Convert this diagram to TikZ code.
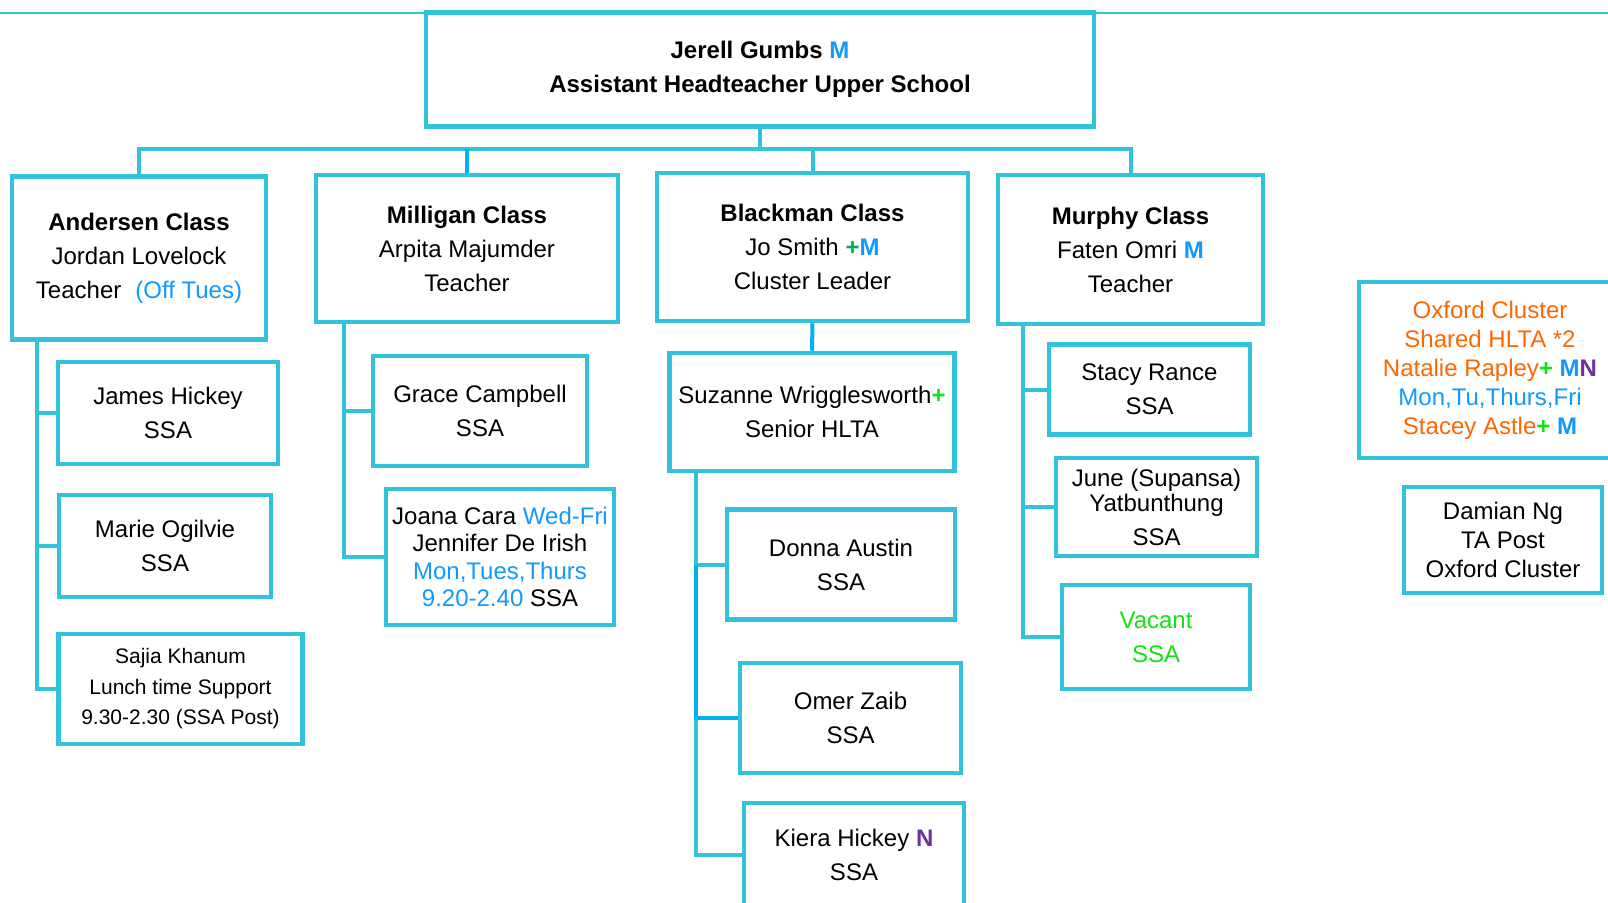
\documentclass[tikz,border=0pt]{standalone}
\usepackage{fontspec}
\setmainfont{Liberation Sans}

\definecolor{boxcyan}{RGB}{49,194,220}
\definecolor{linkblue}{RGB}{0,176,240}
\definecolor{dayblue}{RGB}{17,153,255}
\definecolor{plusgreen}{RGB}{0,176,80}
\definecolor{brightgreen}{RGB}{20,225,20}
\definecolor{npurple}{RGB}{112,48,160}
\definecolor{hltaorange}{RGB}{255,102,0}

\newcommand{\mtag}{\textcolor{dayblue}{\textbf{M}}}
\newcommand{\ntag}{\textcolor{npurple}{\textbf{N}}}
\newcommand{\plusb}{\textcolor{brightgreen}{\textbf{+}}}

\tikzset{
  staffbox/.style={draw=boxcyan, line width=4.5pt, fill=white, align=center,
    inner sep=0pt, font=\fontsize{24}{34}\selectfont},
  link/.style={draw=boxcyan, line width=4pt},
  linkb/.style={draw=linkblue, line width=4pt},
  rule/.style={draw=boxcyan, line width=2pt}
}

\begin{document}
\begin{tikzpicture}[x=1pt,y=-1pt]
\useasboundingbox (0,0) rectangle (1608,902);
\clip (0,0) rectangle (1608,902);

% Head of upper school
\node[staffbox, minimum width=668pt, minimum height=114pt,
  font=\bfseries\fontsize{24}{34}\selectfont] (head) at (760,69.7)
  {Jerell Gumbs \mtag\\Assistant Headteacher Upper School};

% Thin rule along the top
\coordinate (ruleW) at (0,12.7);
\coordinate (ruleE) at (1608,12.7);
\draw[rule] (ruleW) -- (head.west |- ruleW);
\draw[rule] (head.east |- ruleE) -- (ruleE);

% Class teachers
\node[staffbox, minimum width=254pt, minimum height=163pt] (andersen) at (139,258)
  {\textbf{Andersen Class}\\Jordan Lovelock\\Teacher\hspace{14pt}\textcolor{dayblue}{(Off Tues)}};
\node[staffbox, minimum width=302pt, minimum height=147pt] (milligan) at (467,248.5)
  {\textbf{Milligan Class}\\Arpita Majumder\\Teacher};
\node[staffbox, minimum width=311pt, minimum height=148pt] (blackman) at (812.5,247)
  {\textbf{Blackman Class}\\Jo Smith \textcolor{plusgreen}{\textbf{+}}\mtag\\Cluster Leader};
\node[staffbox, minimum width=265pt, minimum height=149pt] (murphy) at (1130.5,249.5)
  {\textbf{Murphy Class}\\Faten Omri \mtag\\Teacher};

% Andersen support staff
\node[staffbox, minimum width=220pt, minimum height=102pt] (james) at (168,413)
  {James Hickey\\SSA};
\node[staffbox, minimum width=212pt, minimum height=102pt] (marie) at (165,546)
  {Marie Ogilvie\\SSA};
\node[staffbox, minimum width=244pt, minimum height=110pt,
  font=\fontsize{21}{30.5}\selectfont] (sajia) at (180.5,689)
  {Sajia Khanum\\Lunch time Support\\9.30-2.30 (SSA Post)};

% Milligan support staff
\node[staffbox, minimum width=214pt, minimum height=110pt] (grace) at (480,411)
  {Grace Campbell\\SSA};
\node[staffbox, minimum width=228pt, minimum height=136pt,
  font=\fontsize{24}{27.5}\selectfont] (joana) at (500,557)
  {Joana Cara \textcolor{dayblue}{Wed-Fri}\\Jennifer De Irish\\
   \textcolor{dayblue}{Mon,Tues,Thurs}\\\textcolor{dayblue}{9.20-2.40} SSA};

% Blackman support staff
\node[staffbox, minimum width=285pt, minimum height=118pt] (suzanne) at (812,412)
  {Suzanne Wrigglesworth\plusb\\Senior HLTA};
\node[staffbox, minimum width=228pt, minimum height=110pt] (donna) at (841,564.5)
  {Donna Austin\\SSA};
\node[staffbox, minimum width=221pt, minimum height=110pt] (omer) at (850.5,718)
  {Omer Zaib\\SSA};
\node[staffbox, minimum width=220pt, minimum height=104pt] (kiera) at (854,855)
  {Kiera Hickey \ntag\\SSA};

% Murphy support staff
\node[staffbox, minimum width=201pt, minimum height=90pt] (stacy) at (1149.5,389.7)
  {Stacy Rance\\SSA};
\node[staffbox, minimum width=201pt, minimum height=98pt] (june) at (1156.5,507)
  {June (Supansa)\\[-9pt]Yatbunthung\\SSA};
\node[staffbox, minimum width=188pt, minimum height=104pt, text=brightgreen] (vacant) at (1156,637)
  {Vacant\\SSA};

% Oxford cluster staff
\node[staffbox, minimum width=262pt, minimum height=176pt, text=hltaorange,
  font=\fontsize{24}{29}\selectfont] (oxford) at (1490,370)
  {Oxford Cluster\\Shared HLTA *2\\Natalie Rapley\plusb\ \mtag\ntag\\
   \textcolor{dayblue}{Mon,Tu,Thurs,Fri}\\Stacey Astle\plusb\ \mtag};
\node[staffbox, minimum width=198pt, minimum height=106pt,
  font=\fontsize{24}{28.7}\selectfont] (damian) at (1503,540)
  {Damian Ng\\TA Post\\Oxford Cluster};

% Head to classes
\draw[link] (head.south) -- ++(0,20.5) coordinate (bar);
\draw[link] (andersen.north) |- (bar) -| (murphy.north);
\draw[linkb] (milligan.north) -- (milligan.north |- bar);
\draw[link] (blackman.north) -- (blackman.north |- bar);

% Andersen trunk
\coordinate (atrunk) at ([xshift=27pt]andersen.south west);
\draw[link] (atrunk) |- (sajia.west);
\draw[link] (atrunk |- james.west) -- (james.west);
\draw[link] (atrunk |- marie.west) -- (marie.west);

% Milligan trunk
\coordinate (mtrunk) at ([xshift=30.5pt]milligan.south west);
\draw[link] (mtrunk) |- (joana.west);
\draw[link] (mtrunk |- grace.west) -- (grace.west);

% Blackman trunk
\draw[linkb] (blackman.south) -- (suzanne.north);
\coordinate (strunk) at ([xshift=28.5pt]suzanne.south west);
\draw[link] (strunk) |- (kiera.west);
\draw[link] (strunk |- donna.west) -- (donna.west);
\draw[linkb] (strunk |- donna.west) -- (strunk |- omer.west) -- (omer.west);

% Murphy trunk
\coordinate (ftrunk) at ([xshift=27.5pt]murphy.south west);
\draw[link] (ftrunk) |- (vacant.west);
\draw[link] (ftrunk |- stacy.west) -- (stacy.west);
\draw[link] (ftrunk |- june.west) -- (june.west);

\end{tikzpicture}
\end{document}
